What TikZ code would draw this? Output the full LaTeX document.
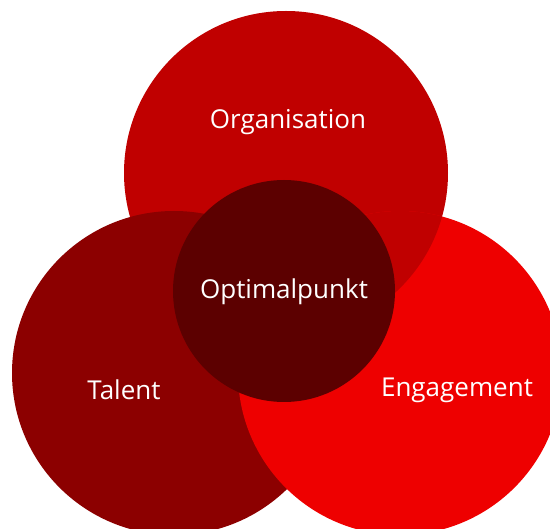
\documentclass[tikz,border=0pt]{standalone}
\usepackage{fontspec}
\setmainfont{Open Sans}
\definecolor{orgc}{RGB}{192,0,0}
\definecolor{talc}{RGB}{140,0,0}
\definecolor{engc}{RGB}{238,0,0}
\definecolor{optc}{RGB}{92,0,0}
\begin{document}
\begin{tikzpicture}[x=1pt,y=-1pt,
  lbl/.style={text=white,font=\fontsize{26}{31}\selectfont}]
\useasboundingbox (0,0) rectangle (550,529);
\clip (0,0) rectangle (550,529);
\fill[orgc] (286,173) circle[radius=162];
\fill[talc] (174,373) circle[radius=162];
\fill[engc] (400,373) circle[radius=162];
\begin{scope}
  \clip (400,373) circle[radius=162];
  \fill[orgc] (286,173) circle[radius=162];
\end{scope}
\fill[optc] (284,291) circle[radius=111];
\node[lbl] (org) at (288,122) {Organisation};
\node[lbl] (opt) at (284,292) {Optimalpunkt};
\node[lbl] (tal) at (124,390) {Talent};
\node[lbl] (eng) at (457,390) {Engagement};
\end{tikzpicture}
\end{document}
